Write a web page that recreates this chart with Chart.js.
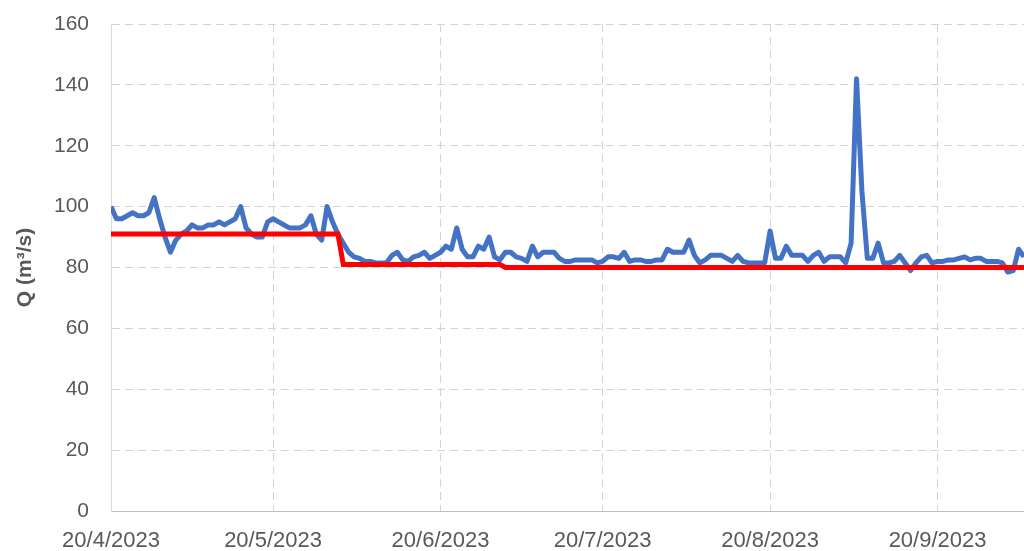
<!DOCTYPE html>
<html>
<head>
<meta charset="utf-8">
<script src="https://cdn.jsdelivr.net/npm/chart.js@4/dist/chart.umd.min.js"></script>
<style>
  html, body { margin: 0; padding: 0; background: #fff; }
  #wrap { width: 1024px; height: 551px; position: relative; }
</style>
</head>
<body>
<div id="wrap"><canvas id="grafico"></canvas></div>
<script>
// daily discharge from 20/4/2023 (day 0) onwards
const startDate = [2023, 4, 20];
const caudal = [
  100, 96, 96, 97, 98, 97, 97, 98, 103, 96,
  90, 85, 89, 91, 92, 94, 93, 93, 94, 94,
  95, 94, 95, 96, 100, 93, 91, 90, 90, 95,
  96, 95, 94, 93, 93, 93, 94, 97, 91, 89,
  100, 95, 91, 88, 85, 83.5, 83, 82, 82, 81.5,
  81.5, 81.5, 84, 85, 82.5, 82, 83.5, 84, 85, 83,
  84, 85, 87, 86, 93, 86, 83.5, 83.5, 87, 86,
  90, 83.5, 82.5, 85, 85, 83.5, 83, 82, 87, 83.5,
  85, 85, 85, 83, 82, 82, 82.5, 82.5, 82.5, 82.5,
  81.5, 82, 83.5, 83.5, 83, 85, 82, 82.5, 82.5, 82,
  82, 82.5, 82.5, 86, 85, 85, 85, 89, 84, 81.5,
  82.5, 84, 84, 84, 83, 82, 84, 82, 81.5, 81.5,
  81.5, 81.5, 92, 83, 83, 87, 84, 84, 84, 82,
  84, 85, 82, 83.5, 83.5, 83.5, 81.5, 88, 142, 105,
  83, 83, 88, 81.5, 81.5, 82, 84, 81.5, 79, 81.5,
  83.5, 84, 81.5, 82, 82, 82.5, 82.5, 83, 83.5, 82.5,
  83, 83, 82, 82, 82, 81.5, 78.5, 79, 86, 83.5
];

// red reference line (day, value)
const refDias = [0, 42, 43, 72, 73, 169];
const refValores = [91, 91, 81, 81, 80, 80];

const tickFechas = [[2023, 4, 20], [2023, 5, 20], [2023, 6, 20], [2023, 7, 20], [2023, 8, 20], [2023, 9, 20]];
const yTicks = [0, 20, 40, 60, 80, 100, 120, 140, 160];

const t0 = Date.UTC(startDate[0], startDate[1] - 1, startDate[2]);
function diaDe(f) {
  return Math.round((Date.UTC(f[0], f[1] - 1, f[2]) - t0) / 86400000);
}
const tickDias = tickFechas.map(diaDe);
const tickTextos = tickFechas.map(f => f[2] + "/" + f[1] + "/" + f[0]);

const gris = "#595959";

new Chart(document.getElementById("grafico").getContext("2d"), {
  type: "line",
  data: {
    datasets: [{
      label: "Referencia",
      data: refDias.map((d, i) => ({ x: d, y: refValores[i] })),
      borderColor: "#ff0000",
      borderWidth: 5,
      pointRadius: 0,
      tension: 0
    }, {
      label: "Q",
      data: caudal.map((v, i) => ({ x: i, y: v })),
      borderColor: "#4472c4",
      borderWidth: 5,
      pointRadius: 0,
      tension: 0,
      borderJoinStyle: "round"
    }]
  },
  options: {
    responsive: true,
    maintainAspectRatio: false,
    animation: false,
    layout: { padding: { top: 24, right: 0, left: 0, bottom: 0 } },
    plugins: { legend: { display: false }, tooltip: { enabled: false } },
    scales: {
      x: {
        type: "linear",
        min: 0,
        max: caudal.length - 1,
        afterBuildTicks: s => { s.ticks = tickDias.map(v => ({ value: v })); },
        afterFit: s => { s.height = 40; s.paddingLeft = 0; s.paddingRight = 0; },
        ticks: {
          autoSkip: false,
          maxRotation: 0,
          padding: 17,
          color: gris,
          font: { family: "Liberation Sans", size: 22 },
          callback: v => tickTextos[tickDias.indexOf(v)]
        },
        grid: { color: "#d4d4d4", lineWidth: 1, drawTicks: false },
        border: { display: true, color: "#bfbfbf", width: 1, dash: [8, 5] }
      },
      y: {
        min: 0,
        max: 160,
        afterBuildTicks: s => { s.ticks = yTicks.map(v => ({ value: v })); },
        afterFit: s => { s.width = 111; s.paddingTop = 0; s.paddingBottom = 0; },
        ticks: {
          padding: 22,
          color: gris,
          font: { family: "Liberation Sans", size: 21 }
        },
        grid: { color: "#d4d4d4", lineWidth: 1, drawTicks: false },
        border: { display: true, color: "#d9d9d9", width: 1, dash: [8, 5] },
        title: {
          display: true,
          text: "Q (m³/s)",
          color: gris,
          padding: { top: 13, bottom: 0 },
          font: { family: "Liberation Sans", size: 21, weight: "bold" }
        }
      }
    }
  }
});
</script>
</body>
</html>
